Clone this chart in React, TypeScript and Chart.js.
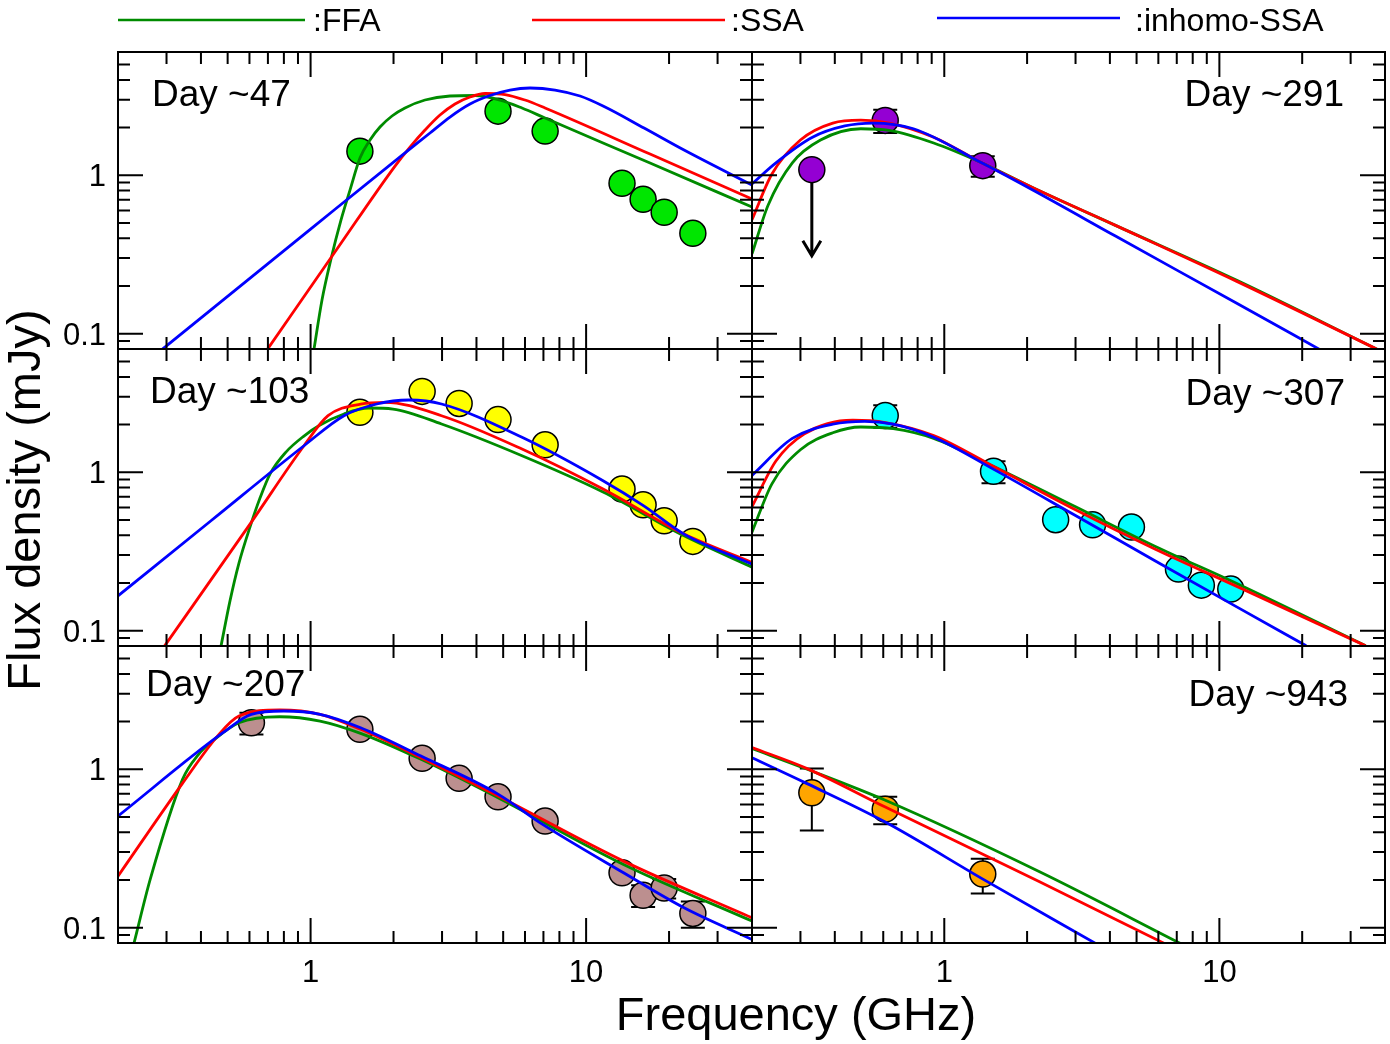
import { useEffect, useRef } from "react";
import { Chart, registerables } from "chart.js";

Chart.register(...registerables);

const FONT = '"Liberation Sans", Arial, Helvetica, sans-serif';

// Shared axis ranges
const freqRange = [0.2, 40]; // GHz
const fluxRange = [0.08, 6]; // mJy
const freqTickLabels = [1, 10];
const fluxTickLabels = [0.1, 1];

// Model curves: names and colours
const modelNames = [":FFA", ":SSA", ":inhomo-SSA"];
const modelColors = ["#008b00", "#ff0000", "#0000ff"];

type Pair = [number, number];

// ---------- Day ~47 ----------
const day47Freq = [1.51, 4.79, 7.1, 13.5, 16.1, 19.2, 24.4];
const day47Flux = [1.42, 2.54, 1.9, 0.89, 0.705, 0.584, 0.43];
const day47Err = [0, 0, 0, 0, 0, 0, 0];
const day47Ffa: Pair[] = [
  [1.029, 0.0798], [1.1, 0.163], [1.186, 0.296], [1.289, 0.521], [1.39, 0.806],
  [1.511, 1.284], [1.643, 1.669], [1.786, 2.016], [1.975, 2.366], [2.201, 2.658],
  [2.602, 2.985], [3.206, 3.164], [3.952, 3.188], [4.87, 2.985], [5.852, 2.658],
  [7.094, 2.298], [17.06, 1.194], [40.0, 0.63],
];
const day47Ssa: Pair[] = [
  [0.698, 0.0798], [1.247, 0.342], [2.025, 1.143], [2.295, 1.507], [2.602, 1.93],
  [2.949, 2.401], [3.343, 2.818], [3.79, 3.119], [4.296, 3.282], [5.078, 3.234],
  [6.0, 2.985], [7.094, 2.658], [17.06, 1.361], [40.0, 0.7076],
];
const day47Inhomo: Pair[] = [
  [0.29, 0.0798], [1.0, 0.457], [2.129, 1.322], [2.713, 1.848], [3.206, 2.332],
  [3.79, 2.818], [4.479, 3.188], [5.294, 3.453], [6.257, 3.555], [7.713, 3.453],
  [9.503, 3.164], [11.52, 2.736], [16.23, 1.987], [22.67, 1.443], [40.0, 0.867],
];

// ---------- Day ~103 ----------
const day103Freq = [1.51, 2.54, 3.46, 4.79, 7.1, 13.5, 16.1, 19.2, 24.4];
const day103Flux = [2.39, 3.24, 2.72, 2.15, 1.49, 0.783, 0.623, 0.494, 0.366];
const day103Err = [0, 0, 0, 0, 0, 0, 0, 0, 0];
const day103Ffa: Pair[] = [
  [0.473, 0.0798], [0.5097, 0.1536], [0.5496, 0.2669], [0.6026, 0.4506], [0.6553, 0.6871],
  [0.7122, 0.974], [0.814, 1.341], [0.946, 1.693], [1.082, 1.987], [1.322, 2.332],
  [1.625, 2.545], [1.991, 2.507], [2.987, 2.016], [5.852, 1.271], [11.52, 0.75],
  [22.67, 0.397], [40.0, 0.2518],
];
const day103Ssa: Pair[] = [
  [0.2949, 0.0798], [0.6097, 0.4846], [0.9463, 1.47], [1.157, 2.275], [1.519, 2.697],
  [1.863, 2.764], [2.987, 2.275], [5.852, 1.401], [11.52, 0.783], [22.67, 0.407],
  [40.0, 0.2697],
];
const day103Inhomo: Pair[] = [
  [0.2, 0.1659], [0.435, 0.494], [0.9463, 1.47], [1.322, 2.275], [1.739, 2.697],
  [2.276, 2.858], [2.987, 2.697], [5.852, 1.662], [11.52, 0.884], [16.19, 0.614],
  [22.67, 0.407], [40.0, 0.263],
];

// ---------- Day ~207 ----------
const day207Freq = [0.61, 1.51, 2.54, 3.46, 4.79, 7.1, 13.5, 16.1, 19.2, 24.4];
const day207Flux = [1.966, 1.787, 1.172, 0.876, 0.67, 0.471, 0.222, 0.16, 0.178, 0.123];
const day207Err = [0.31, 0, 0, 0, 0, 0, 0, 0.025, 0.025, 0.023];
const day207Ffa: Pair[] = [
  [0.2286, 0.0798], [0.2619, 0.2025], [0.3433, 0.867], [0.3903, 1.229], [0.4498, 1.551],
  [0.5496, 1.966], [0.7725, 2.146], [1.082, 2.016], [1.519, 1.686], [2.516, 1.155],
  [4.788, 0.661], [13.67, 0.2507], [40.0, 0.11],
];
const day207Ssa: Pair[] = [
  [0.2, 0.2115], [0.3433, 0.818], [0.465, 1.662], [0.5496, 2.168], [0.7725, 2.366],
  [1.082, 2.223], [1.519, 1.787], [2.516, 1.182], [4.788, 0.677], [13.67, 0.263],
  [40.0, 0.1153],
];
const day207Inhomo: Pair[] = [
  [0.2, 0.5062], [0.4808, 1.701], [0.6097, 2.223], [0.7992, 2.332], [1.082, 2.223],
  [1.519, 1.829], [2.516, 1.212], [4.788, 0.697], [6.953, 0.4486], [13.67, 0.222],
  [22.67, 0.1334], [40.0, 0.0842],
];

// ---------- Day ~291 ----------
const day291Freq = [0.33, 0.61, 1.38];
const day291Flux = [1.085, 2.22, 1.15];
const day291Err = [0, 0.37, 0.17];
const day291LimitTo = [0.31, 0, 0]; // upper limit drawn as an arrow down to this flux
const day291Ffa: Pair[] = [
  [0.2, 0.319], [0.2286, 0.6446], [0.2803, 1.198], [0.3549, 1.669], [0.4971, 1.966],
  [0.631, 1.919], [0.915, 1.597], [1.373, 1.194], [2.129, 0.825], [4.19, 0.4826],
  [11.52, 0.218], [37.4, 0.0798],
];
const day291Ssa: Pair[] = [
  [0.2, 0.5242], [0.2363, 1.018], [0.2999, 1.669], [0.3934, 2.136], [0.4971, 2.226],
  [0.631, 2.136], [0.915, 1.738], [1.373, 1.194], [2.129, 0.825], [4.19, 0.4826],
  [11.52, 0.2146], [37.4, 0.0798],
];
const day291Inhomo: Pair[] = [
  [0.2, 0.882], [0.2443, 1.198], [0.3318, 1.738], [0.435, 2.048], [0.551, 2.136],
  [0.7725, 1.966], [1.373, 1.194], [2.129, 0.795], [4.19, 0.413], [11.52, 0.156],
  [23.05, 0.0798],
];

// ---------- Day ~307 ----------
const day307Freq = [0.61, 1.51, 2.54, 3.46, 4.79, 7.1, 8.6, 11.0];
const day307Flux = [2.278, 1.013, 0.502, 0.466, 0.4506, 0.2446, 0.1938, 0.1829];
const day307Err = [0.37, 0.16, 0, 0, 0, 0, 0, 0];
const day307Ffa: Pair[] = [
  [0.2, 0.419], [0.2363, 0.845], [0.2999, 1.387], [0.3934, 1.776], [0.4971, 1.93],
  [0.6524, 1.883], [0.915, 1.635], [1.519, 1.082], [2.987, 0.607], [5.852, 0.34],
  [11.52, 0.199], [34.02, 0.0802],
];
const day307Ssa: Pair[] = [
  [0.2, 0.607], [0.2443, 1.177], [0.3102, 1.748], [0.465, 2.13], [0.6097, 2.061],
  [0.915, 1.705], [1.519, 1.082], [2.987, 0.582], [5.852, 0.327], [11.52, 0.191],
  [34.02, 0.0802],
];
const day307Inhomo: Pair[] = [
  [0.2, 0.956], [0.2803, 1.635], [0.3934, 2.01], [0.5149, 2.097], [0.6524, 2.01],
  [0.915, 1.664], [1.519, 1.039], [2.987, 0.535], [5.852, 0.2756], [11.52, 0.1418],
  [20.68, 0.0802],
];

// ---------- Day ~943 ----------
const day943Freq = [0.33, 0.61, 1.38];
const day943Flux = [0.71, 0.56, 0.218];
const day943Err = [0.3, 0.11, 0.054];
const day943Ffa: Pair[] = [
  [0.2, 1.351], [0.3158, 1.003], [0.6076, 0.639], [2.22, 0.2252], [7.19, 0.0798],
];
const day943Ssa: Pair[] = [
  [0.2, 1.371], [0.3158, 1.013], [0.6076, 0.5795], [2.22, 0.1947], [6.284, 0.0798],
];
const day943Inhomo: Pair[] = [
  [0.2, 1.182], [0.3158, 0.8145], [0.6076, 0.466], [1.402, 0.1995], [3.536, 0.0798],
];

// Page geometry of the 2 x 3 panel grid
const colEdges = [118, 752, 1385];
const rowEdges = [52, 349, 646, 943];
const PAGE_W = 1390;
const PAGE_H = 1044;

interface PanelDef {
  label: string;
  col: number;
  row: number;
  freq: number[];
  flux: number[];
  err: number[];
  limitTo?: number[];
  fill: string;
  ffa: Pair[];
  ssa: Pair[];
  inhomo: Pair[];
  labelDx: number;
  labelDy: number;
}

const panels: PanelDef[] = [
  { label: "Day ~47", col: 0, row: 0, freq: day47Freq, flux: day47Flux, err: day47Err, fill: "#00e600", ffa: day47Ffa, ssa: day47Ssa, inhomo: day47Inhomo, labelDx: 34, labelDy: 54 },
  { label: "Day ~103", col: 0, row: 1, freq: day103Freq, flux: day103Flux, err: day103Err, fill: "#ffff00", ffa: day103Ffa, ssa: day103Ssa, inhomo: day103Inhomo, labelDx: 32, labelDy: 54 },
  { label: "Day ~207", col: 0, row: 2, freq: day207Freq, flux: day207Flux, err: day207Err, fill: "#bc8f8f", ffa: day207Ffa, ssa: day207Ssa, inhomo: day207Inhomo, labelDx: 28, labelDy: 50 },
  { label: "Day ~291", col: 1, row: 0, freq: day291Freq, flux: day291Flux, err: day291Err, limitTo: day291LimitTo, fill: "#9400d3", ffa: day291Ffa, ssa: day291Ssa, inhomo: day291Inhomo, labelDx: 41, labelDy: 54 },
  { label: "Day ~307", col: 1, row: 1, freq: day307Freq, flux: day307Flux, err: day307Err, fill: "#00ffff", ffa: day307Ffa, ssa: day307Ssa, inhomo: day307Inhomo, labelDx: 40, labelDy: 56 },
  { label: "Day ~943", col: 1, row: 2, freq: day943Freq, flux: day943Flux, err: day943Err, fill: "#ffa500", ffa: day943Ffa, ssa: day943Ssa, inhomo: day943Inhomo, labelDx: 37, labelDy: 60 },
];

function drawText(
  ctx: CanvasRenderingContext2D,
  s: string,
  x: number,
  y: number,
  size: number,
  align: CanvasTextAlign = "left"
) {
  ctx.font = `${size}px ${FONT}`;
  ctx.textAlign = align;
  ctx.textBaseline = "alphabetic";
  ctx.fillStyle = "#000";
  ctx.fillText(s, x, y);
}

function isDecadeMultiple(v: number) {
  const sig = v / Math.pow(10, Math.floor(Math.log10(v) + 1e-9));
  const r = Math.round(sig);
  return { ok: Math.abs(sig - r) < 1e-6, major: r === 1 };
}

function panelDecor(p: PanelDef, withTitles: boolean) {
  return {
    id: "panelDecor",
    beforeDatasetsDraw(chart: any) {
      const { ctx } = chart;
      const x = chart.scales.x;
      const y = chart.scales.y;
      ctx.save();
      ctx.strokeStyle = "#000";
      ctx.lineWidth = 2;
      p.freq.forEach((f: number, i: number) => {
        const px = x.getPixelForValue(f);
        const e = p.err[i];
        if (e > 0) {
          const y0 = y.getPixelForValue(p.flux[i] - e);
          const y1 = y.getPixelForValue(p.flux[i] + e);
          ctx.beginPath();
          ctx.moveTo(px, y0);
          ctx.lineTo(px, y1);
          ctx.moveTo(px - 12, y0);
          ctx.lineTo(px + 12, y0);
          ctx.moveTo(px - 12, y1);
          ctx.lineTo(px + 12, y1);
          ctx.stroke();
        }
        const lim = p.limitTo ? p.limitTo[i] : 0;
        if (lim > 0) {
          const py = y.getPixelForValue(p.flux[i]);
          const tip = y.getPixelForValue(lim);
          ctx.lineWidth = 3;
          ctx.beginPath();
          ctx.moveTo(px, py);
          ctx.lineTo(px, tip);
          ctx.moveTo(px - 9, tip - 15);
          ctx.lineTo(px, tip);
          ctx.lineTo(px + 9, tip - 15);
          ctx.stroke();
          ctx.lineWidth = 2;
        }
      });
      ctx.restore();
    },
    afterDatasetsDraw(chart: any) {
      const { ctx, chartArea } = chart;
      const { left, right, top, bottom } = chartArea;
      const x = chart.scales.x;
      const y = chart.scales.y;
      ctx.save();
      ctx.strokeStyle = "#000";
      ctx.lineWidth = 2;
      ctx.lineCap = "butt";
      ctx.beginPath();
      for (const t of x.ticks) {
        const m = isDecadeMultiple(t.value);
        if (!m.ok) continue;
        const len = m.major ? 25 : 12;
        const px = x.getPixelForValue(t.value);
        ctx.moveTo(px, bottom);
        ctx.lineTo(px, bottom - len);
        ctx.moveTo(px, top);
        ctx.lineTo(px, top + len);
      }
      for (const t of y.ticks) {
        const m = isDecadeMultiple(t.value);
        if (!m.ok) continue;
        const len = m.major ? 25 : 12;
        const py = y.getPixelForValue(t.value);
        ctx.moveTo(left, py);
        ctx.lineTo(left + len, py);
        ctx.moveTo(right, py);
        ctx.lineTo(right - len, py);
      }
      ctx.stroke();
      ctx.strokeRect(left, top, right - left, bottom - top);

      if (p.col === 0) {
        for (const v of fluxTickLabels) {
          drawText(ctx, String(v), left - 12, y.getPixelForValue(v) + 11, 31, "right");
        }
      }
      if (p.row === 2) {
        for (const v of freqTickLabels) {
          drawText(ctx, String(v), x.getPixelForValue(v), bottom + 39, 31, "center");
        }
      }
      if (p.col === 0) {
        drawText(ctx, p.label, left + p.labelDx, top + p.labelDy, 37, "left");
      } else {
        drawText(ctx, p.label, right - p.labelDx, top + p.labelDy, 37, "right");
      }
      ctx.restore();
    },
    afterDraw(chart: any) {
      if (!withTitles) return;
      const { ctx } = chart;
      ctx.save();
      // legend row
      const legend = [
        { x0: 118, x1: 305, y: 20, tx: 313 },
        { x0: 532, x1: 725, y: 20, tx: 731 },
        { x0: 937, x1: 1120, y: 18, tx: 1135 },
      ];
      legend.forEach((l, i) => {
        ctx.strokeStyle = modelColors[i];
        ctx.lineWidth = 2.5;
        ctx.beginPath();
        ctx.moveTo(l.x0, l.y);
        ctx.lineTo(l.x1, l.y);
        ctx.stroke();
        drawText(ctx, modelNames[i], l.tx, 31, 32, "left");
      });
      // axis titles
      drawText(ctx, "Frequency (GHz)", 796, 1030, 47, "center");
      ctx.translate(40, 500);
      ctx.rotate(-Math.PI / 2);
      drawText(ctx, "Flux density (mJy)", 0, 0, 47, "center");
      ctx.restore();
    },
  };
}

function curve(data: Pair[], color: string, label: string, order: number) {
  return {
    type: "line" as const,
    label,
    data: data.map(([f, s]) => ({ x: f, y: s })),
    borderColor: color,
    borderWidth: 2.8,
    pointRadius: 0,
    fill: false,
    cubicInterpolationMode: "monotone" as const,
    order,
  };
}

function PanelCanvas({ panel, withTitles }: { panel: PanelDef; withTitles: boolean }) {
  const ref = useRef<HTMLCanvasElement>(null);
  useEffect(() => {
    const canvas = ref.current;
    if (!canvas) return;
    const l = colEdges[panel.col];
    const r = colEdges[panel.col + 1];
    const t = rowEdges[panel.row];
    const b = rowEdges[panel.row + 1];
    const chart = new Chart(canvas, {
      type: "line",
      data: {
        datasets: [
          curve(panel.inhomo, modelColors[2], "inhomo-SSA", 0),
          curve(panel.ssa, modelColors[1], "SSA", 1),
          curve(panel.ffa, modelColors[0], "FFA", 2),
          {
            type: "line",
            label: panel.label,
            data: panel.freq.map((f, i) => ({ x: f, y: panel.flux[i] })),
            showLine: false,
            pointRadius: 13,
            pointBackgroundColor: panel.fill,
            pointBorderColor: "#000",
            pointBorderWidth: 1.5,
            order: 3,
          },
        ],
      } as any,
      options: {
        responsive: false,
        maintainAspectRatio: false,
        animation: false,
        events: [],
        layout: {
          autoPadding: false,
          padding: { left: l, right: PAGE_W - r, top: t, bottom: PAGE_H - b },
        },
        elements: { line: { capBezierPoints: false } },
        scales: {
          x: { type: "logarithmic", min: freqRange[0], max: freqRange[1], display: false, ticks: { autoSkip: false } },
          y: { type: "logarithmic", min: fluxRange[0], max: fluxRange[1], display: false, ticks: { autoSkip: false } },
        },
        plugins: { legend: { display: false }, tooltip: { enabled: false } },
      } as any,
      plugins: [panelDecor(panel, withTitles)],
    });
    return () => chart.destroy();
  }, [panel, withTitles]);
  return (
    <canvas
      ref={ref}
      width={PAGE_W}
      height={PAGE_H}
      style={{ position: "absolute", left: 0, top: 0, pointerEvents: "none" }}
    />
  );
}

export default function App() {
  return (
    <div
      style={{
        position: "fixed",
        left: 0,
        top: 0,
        width: PAGE_W,
        height: PAGE_H,
        background: "#ffffff",
        overflow: "hidden",
      }}
    >
      {panels.map((p, i) => (
        <PanelCanvas key={p.label} panel={p} withTitles={i === 0} />
      ))}
    </div>
  );
}
